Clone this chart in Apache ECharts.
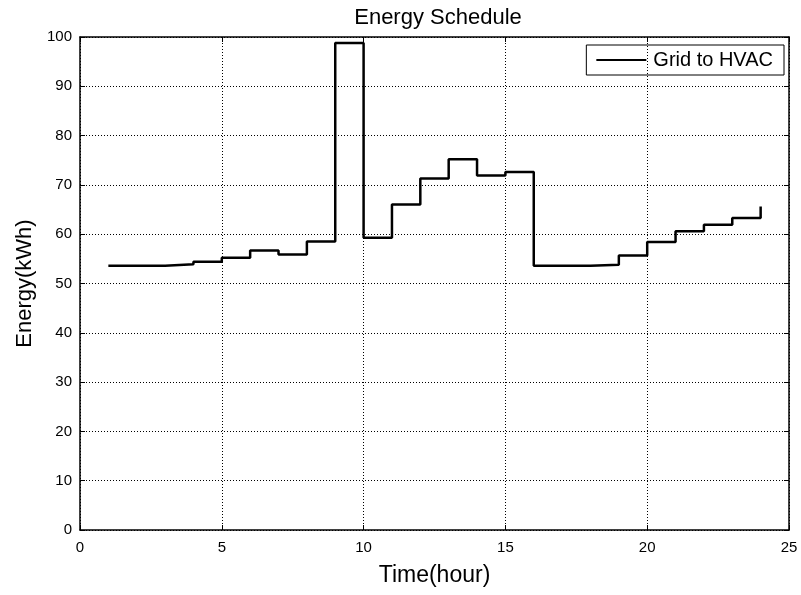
<!DOCTYPE html>
<html>
<head>
<meta charset="utf-8">
<script src="https://cdn.jsdelivr.net/npm/echarts@6/dist/echarts.min.js"></script>
<style>
  html, body { margin: 0; padding: 0; background: #fff; }
  #chart { width: 801px; height: 595px; }
</style>
</head>
<body>
<div id="chart"></div>
<script>
// Hourly energy drawn from the grid to the HVAC unit (stairs plot)
const hours = [1, 2, 3, 4, 5, 6, 7, 8, 9, 10, 11, 12, 13, 14, 15, 16, 17, 18, 19, 20, 21, 22, 23, 24];
const gridToHvac = [53.6, 53.6, 53.9, 54.4, 55.2, 56.7, 55.9, 58.5, 98.8, 59.3, 66.0, 71.3, 75.2, 71.9, 72.6, 53.6, 53.6, 53.8, 55.7, 58.4, 60.6, 61.9, 63.3, 65.6];
const xTicks = [0, 5, 10, 15, 20, 25];
const yTicks = [0, 10, 20, 30, 40, 50, 60, 70, 80, 90, 100];

const font = 'Liberation Sans, Arial, sans-serif';
const chart = echarts.init(document.getElementById('chart'), null, { renderer: 'canvas' });

const gridLine = { show: true, lineStyle: { color: '#000', type: [1, 2], width: 1 } };
const frameLine = { show: true, onZero: false, lineStyle: { color: '#000', width: 1.5 } };
const innerTick = { show: true, inside: true, length: 5, lineStyle: { color: '#000' } };

chart.setOption({
  animation: false,
  backgroundColor: '#fff',
  title: {
    text: 'Energy Schedule',
    left: 433, top: 2, textAlign: 'center',
    textStyle: { fontFamily: font, fontSize: 22, fontWeight: 'normal', color: '#000' }
  },
  legend: {
    right: 17, top: 45,
    data: ['Grid to HVAC'],
    itemWidth: 50, itemHeight: 2, itemGap: 4,
    padding: [5, 11, 5, 10],
    borderColor: '#000', borderWidth: 1,
    icon: 'rect',
    textStyle: { fontFamily: font, fontSize: 20, color: '#000', padding: [0, 0, 0, 2] }
  },
  grid: { left: 80, right: 12, top: 37, bottom: 65 },
  xAxis: [{
    type: 'value', min: xTicks[0], max: xTicks[xTicks.length - 1], interval: 5,
    name: 'Time(hour)', nameLocation: 'middle', nameGap: 34,
    nameTextStyle: { fontFamily: font, fontSize: 23, color: '#000' },
    axisLine: frameLine,
    axisTick: innerTick,
    axisLabel: { fontFamily: font, fontSize: 15, color: '#000', margin: 10 },
    splitLine: gridLine
  }, {
    type: 'value', position: 'top', min: xTicks[0], max: xTicks[xTicks.length - 1], interval: 5,
    axisLine: frameLine,
    axisTick: innerTick,
    axisLabel: { show: false }, splitLine: { show: false }
  }],
  yAxis: [{
    type: 'value', min: yTicks[0], max: yTicks[yTicks.length - 1], interval: 10,
    name: 'Energy(kWh)', nameLocation: 'middle', nameGap: 43, nameRotate: 90,
    nameTextStyle: { fontFamily: font, fontSize: 22, color: '#000' },
    axisLine: frameLine,
    axisTick: innerTick,
    axisLabel: { fontFamily: font, fontSize: 15, color: '#000', margin: 8 },
    splitLine: gridLine
  }, {
    type: 'value', position: 'right', min: yTicks[0], max: yTicks[yTicks.length - 1], interval: 10,
    axisLine: frameLine,
    axisTick: innerTick,
    axisLabel: { show: false }, splitLine: { show: false }
  }],
  series: [{
    name: 'Grid to HVAC',
    type: 'line',
    step: 'end',
    showSymbol: false,
    symbol: 'none',
    lineStyle: { color: '#000', width: 2.5 },
    itemStyle: { color: '#000' },
    data: hours.map((h, i) => [h, gridToHvac[i]])
  }]
});
</script>
</body>
</html>
